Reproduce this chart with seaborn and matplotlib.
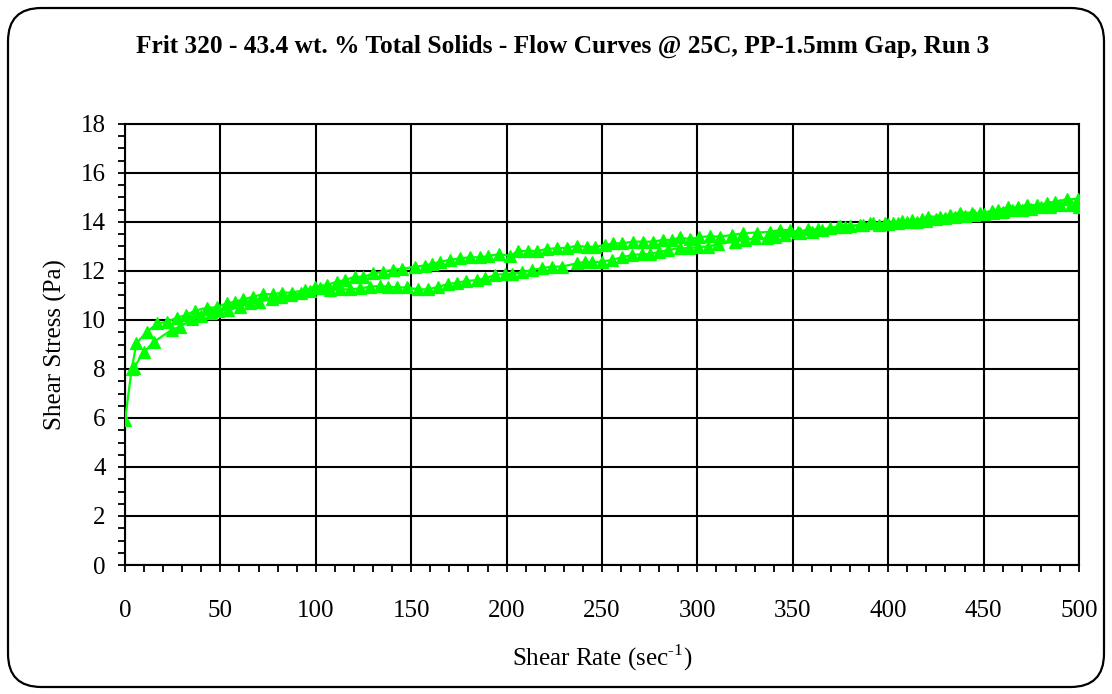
import numpy as np
import pandas as pd
import matplotlib
matplotlib.use("Agg")
import matplotlib.pyplot as plt
from matplotlib.patches import FancyBboxPatch
from matplotlib.ticker import MultipleLocator
import seaborn as sns

# up curve (shear rate, stress)
up_rate = [0, 3.5, 6, 11.5, 17, 22, 27.4, 32, 36.7, 42.8, 48, 53.3, 57.7, 62, 67,
           72.5, 77.7, 82.1, 87.4, 94.3, 99.6, 105.7, 111, 115.3, 120.5, 124.9,
           130.1, 135.4, 140.6, 145, 152, 157, 160.7, 165.1, 170.3, 175.6, 180.8,
           186.1, 190.4, 196, 201.8, 206.1, 211.4, 216.1, 221, 226.3, 231.8, 236.7,
           241.9, 246.3, 251.6, 255.9, 260.3, 266.4, 271.6, 276.9, 282.1, 286.5,
           290.9, 296.1, 301, 306.6, 311.8, 318, 324, 331, 338, 343.3, 348.5, 352.9,
           358.1, 363.4, 369.5, 374.7, 380, 387, 392.2, 398.3, 402.7, 407.1, 412.3,
           417.6, 421, 427.1, 432.4, 437.6, 443.8, 448.1, 454.2, 457.7, 462.9, 468.2,
           472.6, 477.8, 483.1, 487.4, 493.5, 499.5]
up_stress = [5.9, 8.0, 9.05, 9.52, 9.86, 9.93, 10.1, 10.2, 10.38, 10.5, 10.52, 10.68,
             10.75, 10.84, 10.95, 11.06, 11.05, 11.12, 11.12, 11.22, 11.36, 11.43,
             11.56, 11.63, 11.77, 11.76, 11.9, 11.97, 12.06, 12.08, 12.18, 12.22,
             12.29, 12.38, 12.45, 12.52, 12.56, 12.56, 12.61, 12.69, 12.62, 12.82,
             12.82, 12.82, 12.9, 12.93, 12.95, 13.03, 12.99, 12.99, 13.06, 13.13,
             13.13, 13.2, 13.2, 13.2, 13.27, 13.27, 13.37, 13.3, 13.38, 13.42, 13.4,
             13.47, 13.54, 13.57, 13.6, 13.67, 13.67, 13.6, 13.7, 13.7, 13.74, 13.84,
             13.84, 13.88, 13.97, 13.95, 13.97, 14.05, 14.08, 14.11, 14.22, 14.22,
             14.29, 14.38, 14.38, 14.35, 14.46, 14.49, 14.6, 14.6, 14.69, 14.69,
             14.76, 14.83, 14.92, 14.95]

# down curve
down_rate = [500, 496, 490, 485, 480, 475, 470, 465, 460, 455, 450, 445, 440, 435,
             430, 425, 420, 415, 410, 405, 400, 395, 390.5, 385.2, 377.4, 373.9,
             365.1, 359.9, 353.8, 345.9, 340.7, 336.3, 330.2, 324.9, 319.7, 310.9,
             305.7, 300.5, 295.7, 290.9, 284.8, 280, 275.2, 270.8, 265.6, 260.3,
             255.1, 249.8, 245, 241.1, 236.7, 228.9, 223.6, 218.4, 213.2, 208, 202.7,
             199.2, 193.9, 188.7, 184.3, 178.6, 174, 169.4, 164.2, 159, 153.7, 147.6,
             142.4, 138, 133.6, 128.4, 123.2, 117.9, 112.7, 107.4, 102.2, 97, 92, 87,
             82, 77, 70, 65.5, 60.3, 54, 49, 45, 40, 35, 29, 24.5, 15, 10, 4.5]
down_stress = [14.62, 14.7, 14.68, 14.6, 14.62, 14.55, 14.5, 14.48, 14.4, 14.38, 14.32,
               14.3, 14.25, 14.2, 14.15, 14.12, 14.05, 14.02, 13.98, 13.95, 13.9,
               13.88, 13.95, 13.88, 13.81, 13.81, 13.67, 13.6, 13.54, 13.47, 13.4,
               13.33, 13.33, 13.27, 13.2, 13.1, 12.99, 12.99, 12.93, 12.93, 12.86,
               12.78, 12.69, 12.69, 12.65, 12.56, 12.45, 12.38, 12.36, 12.38, 12.31,
               12.18, 12.18, 12.11, 12.04, 11.95, 11.88, 11.88, 11.84, 11.7, 11.63,
               11.59, 11.52, 11.47, 11.36, 11.25, 11.25, 11.33, 11.33, 11.36, 11.39,
               11.36, 11.29, 11.25, 11.25, 11.22, 11.29, 11.18, 11.1, 11.02, 10.95,
               10.85, 10.75, 10.68, 10.54, 10.42, 10.38, 10.27, 10.16, 10.03, 9.73,
               9.6, 9.1, 8.7, 8.04]

title = "Frit 320 - 43.4 wt. % Total Solids - Flow Curves @ 25C, PP-1.5mm Gap, Run 3"

sns.set_theme(style="white")
plt.rcParams['font.family'] = ['Liberation Serif', 'DejaVu Serif']
plt.rcParams['mathtext.fontset'] = 'custom'
plt.rcParams['mathtext.rm'] = 'Liberation Serif'
plt.rcParams['text.color'] = 'black'
plt.rcParams['axes.labelcolor'] = 'black'

fig = plt.figure(figsize=(11.12, 6.94), dpi=100)
ax = fig.add_axes([125 / 1112, 1 - 565 / 694, (1079 - 125) / 1112, (565 - 124) / 694])

# rounded outer frame
frame = FancyBboxPatch((8 / 1112, 7 / 694), 1096 / 1112, 679 / 694,
                       boxstyle="round,pad=0,rounding_size=0.03",
                       transform=fig.transFigure, fill=False, ec="black", lw=1.6,
                       mutation_aspect=1112 / 694)
fig.patches.append(frame)

green = "#00ff00"
up_df = pd.DataFrame({"rate": up_rate, "stress": up_stress})
down_df = pd.DataFrame({"rate": down_rate, "stress": down_stress})
for df in (up_df, down_df):
    sns.lineplot(data=df, x="rate", y="stress", ax=ax, sort=False, estimator=None,
                 color=green, lw=1.6, marker="^", markersize=8.5,
                 markeredgecolor=green, markeredgewidth=0.9, zorder=3)

ax.set_xlim(0, 500)
ax.set_ylim(0, 18)
ax.xaxis.set_major_locator(MultipleLocator(50))
ax.xaxis.set_minor_locator(MultipleLocator(10))
ax.yaxis.set_major_locator(MultipleLocator(2))
ax.yaxis.set_minor_locator(MultipleLocator(0.5))
ax.grid(True, which="major", color="black", lw=1.5)
for s in ax.spines.values():
    s.set_color("black")
    s.set_linewidth(1.5)
ax.tick_params(axis="x", which="both", bottom=True, direction="out", length=5,
               width=1.3, color="black", labelcolor="black", labelsize=18, pad=20)
ax.tick_params(axis="y", which="both", left=True, direction="out", length=5,
               width=1.3, color="black", labelcolor="black", labelsize=18, pad=9)
ax.set_xlabel("Shear Rate (sec$^{\\mathrm{\u2010}1}$)", fontsize=18, labelpad=15)
ax.set_ylabel("Shear Stress (Pa)", fontsize=18, labelpad=10)
fig.text(563 / 1112, 1 - 46 / 694, title, ha="center", va="center", fontsize=18.3,
         fontweight="bold")

fig.savefig("out.png", dpi=100)
